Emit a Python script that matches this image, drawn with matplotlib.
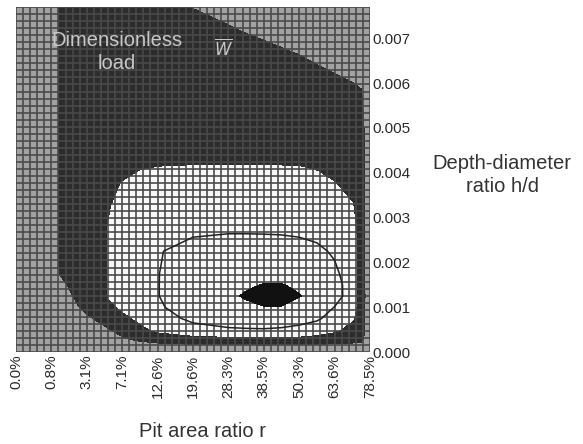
import numpy as np
import matplotlib
matplotlib.use('Agg')
import matplotlib.pyplot as plt

plt.rcParams['font.family'] = ['Liberation Sans', 'DejaVu Sans']

# pit diameter ratio d/D of the data columns (r = pi/4 * (d/D)^2)
d_ratio = [0.0, 0.10, 0.15, 0.20, 0.25, 0.30, 0.35, 0.40, 0.50, 0.60, 0.65, 0.70, 0.75,
           0.80, 0.85, 0.90, 0.95, 0.975, 1.0]
# depth-diameter ratio h/d of the data rows
hd = [0.0, 0.0003, 0.0005, 0.00075, 0.0010, 0.00125, 0.0015, 0.00175, 0.00225, 0.00275,
      0.00325, 0.00375, 0.00425, 0.00475, 0.00525, 0.00575, 0.00625, 0.00675, 0.00725, 0.00775]

# dimensionless load W (one row per h/d value)
W = [
    [0.20, 0.20, 0.20, 0.20, 0.20, 0.20, 0.20, 0.20, 0.20, 0.20, 0.20, 0.20, 0.20, 0.20, 0.20, 0.20, 0.20, 0.20, 0.20],
    [0.25, 0.35, 0.45, 0.55, 0.70, 0.95, 1.20, 1.40, 1.60, 1.70, 1.72, 1.75, 1.72, 1.70, 1.60, 1.50, 1.40, 1.30, 0.30],
    [0.30, 0.45, 0.55, 0.70, 0.90, 1.20, 1.70, 2.20, 2.70, 2.90, 2.93, 2.95, 2.90, 2.80, 2.50, 2.15, 1.60, 1.40, 0.40],
    [0.30, 0.50, 0.70, 0.90, 1.20, 1.70, 2.20, 2.60, 3.20, 3.45, 3.55, 3.60, 3.48, 3.30, 3.15, 2.60, 2.10, 1.45, 0.40],
    [0.30, 0.55, 0.80, 1.15, 1.60, 2.15, 2.40, 2.92, 3.30, 3.70, 3.85, 3.97, 3.97, 3.75, 3.50, 2.98, 2.40, 1.45, 0.40],
    [0.30, 0.60, 0.90, 1.40, 1.95, 2.30, 2.60, 2.98, 3.40, 3.865, 4.08, 4.30, 4.28, 4.03, 3.81, 3.37, 2.565, 1.48, 0.39],
    [0.30, 0.70, 1.05, 1.45, 1.95, 2.30, 2.60, 2.98, 3.40, 3.80, 3.90, 4.03, 4.03, 3.90, 3.70, 3.35, 2.57, 1.45, 0.40],
    [0.30, 0.80, 1.25, 1.50, 1.95, 2.30, 2.60, 2.98, 3.35, 3.65, 3.72, 3.75, 3.75, 3.70, 3.50, 3.15, 2.60, 1.45, 0.40],
    [0.30, 0.85, 1.25, 1.55, 1.95, 2.30, 2.60, 2.95, 3.25, 3.35, 3.35, 3.35, 3.32, 3.25, 3.15, 2.90, 2.60, 1.45, 0.40],
    [0.30, 0.85, 1.25, 1.55, 1.95, 2.25, 2.50, 2.70, 2.85, 2.90, 2.90, 2.89, 2.88, 2.85, 2.75, 2.60, 2.35, 1.45, 0.40],
    [0.30, 0.85, 1.25, 1.55, 1.90, 2.15, 2.35, 2.50, 2.60, 2.62, 2.62, 2.62, 2.62, 2.60, 2.50, 2.35, 2.05, 1.45, 0.40],
    [0.30, 0.85, 1.25, 1.50, 1.75, 2.02, 2.20, 2.30, 2.35, 2.38, 2.38, 2.38, 2.37, 2.35, 2.20, 2.02, 1.75, 1.45, 0.40],
    [0.30, 0.85, 1.25, 1.45, 1.60, 1.75, 1.85, 1.90, 1.92, 1.92, 1.92, 1.92, 1.91, 1.90, 1.85, 1.75, 1.60, 1.40, 0.40],
    [0.30, 0.85, 1.25, 1.40, 1.50, 1.60, 1.65, 1.70, 1.70, 1.70, 1.70, 1.70, 1.68, 1.65, 1.60, 1.55, 1.50, 1.35, 0.45],
    [0.30, 0.85, 1.25, 1.35, 1.45, 1.50, 1.55, 1.55, 1.55, 1.50, 1.48, 1.45, 1.42, 1.40, 1.35, 1.30, 1.25, 1.20, 0.45],
    [0.30, 0.85, 1.25, 1.30, 1.40, 1.42, 1.45, 1.45, 1.42, 1.38, 1.35, 1.32, 1.28, 1.25, 1.20, 1.15, 1.12, 1.05, 0.50],
    [0.30, 0.85, 1.25, 1.25, 1.32, 1.35, 1.35, 1.35, 1.30, 1.25, 1.22, 1.18, 1.14, 1.10, 1.05, 0.99, 0.90, 0.85, 0.40],
    [0.30, 0.85, 1.25, 1.20, 1.25, 1.27, 1.27, 1.25, 1.20, 1.12, 1.08, 1.05, 1.01, 0.97, 0.90, 0.85, 0.80, 0.75, 0.40],
    [0.30, 0.85, 1.25, 1.15, 1.20, 1.20, 1.20, 1.17, 1.10, 1.01, 0.97, 0.93, 0.90, 0.87, 0.84, 0.80, 0.75, 0.70, 0.40],
    [0.30, 0.85, 1.25, 1.10, 1.12, 1.12, 1.10, 1.07, 0.98, 0.92, 0.89, 0.86, 0.84, 0.82, 0.80, 0.77, 0.72, 0.67, 0.40],
]

# band limits of W and the single drawn contour line
band_levels = [0, 1, 2, 4]
band_colors = ['#a2a2a2', '#2c2c2c', '#f8f8f8']
peak_levels = [4, 5]
line_levels = [3]

# axis ticks
x_ticks = [0.0, 0.1, 0.2, 0.3, 0.4, 0.5, 0.6, 0.7, 0.8, 0.9, 1.0]
r_labels = ['0.0%', '0.8%', '3.1%', '7.1%', '12.6%', '19.6%', '28.3%', '38.5%', '50.3%', '63.6%', '78.5%']
y_ticks = [0.000, 0.001, 0.002, 0.003, 0.004, 0.005, 0.006, 0.007]

fig = plt.figure(figsize=(5.83, 4.44), dpi=100)
ax = fig.add_axes([0.0274, 0.2072, 0.6072, 0.777])

ax.contourf(d_ratio, hd, W, levels=band_levels, colors=band_colors, extend='max')
# highest band drawn solid, over the mesh
ax.contourf(d_ratio, hd, W, levels=peak_levels, colors=['#111111'], zorder=3)
ax.contour(d_ratio, hd, W, levels=line_levels, colors='#222222', linewidths=1.1, zorder=3)

ax.set_xlim(0, 1.0)
ax.set_ylim(0, 0.0077)

# the fine mesh over the whole surface
ax.set_xticks(np.linspace(0, 1.0, 51), minor=True)
ax.set_yticks(np.linspace(0, 0.0077, 50), minor=True)
ax.xaxis.remove_overlapping_locs = False
ax.yaxis.remove_overlapping_locs = False
ax.grid(which='minor', color='#4a4a4a', linewidth=1.2)
ax.grid(which='major', visible=False)
ax.set_axisbelow(False)

ax.set_xticks(x_ticks)
ax.set_xticklabels(r_labels, rotation=90, fontsize=11, color='#2a2a2a')
ax.yaxis.tick_right()
ax.set_yticks(y_ticks)
ax.set_yticklabels(['%.3f' % v for v in y_ticks], fontsize=11, color='#2a2a2a')
ax.tick_params(which='both', length=0, pad=2)
for s in ax.spines.values():
    s.set_visible(False)

ax.set_xlabel('Pit area ratio r', fontsize=14.5, color='#333333')
ax.xaxis.set_label_coords(0.528, -0.203)
ax.yaxis.set_label_position('right')
ax.set_ylabel('Depth-diameter\nratio h/d', fontsize=14.5, color='#333333',
              rotation=0, ha='center', va='center', linespacing=1.3)
ax.yaxis.set_label_coords(1.373, 0.513)

ax.text(0.284, 0.00669, 'Dimensionless\nload', fontsize=14.5, color='#c8c8c8',
        ha='center', va='center', linespacing=1.25, zorder=5)
ax.text(0.585, 0.0068, r'$\overline{W}$', fontsize=12, color='#c8c8c8',
        ha='center', va='center', zorder=5)

fig.savefig('out.png', dpi=100)
